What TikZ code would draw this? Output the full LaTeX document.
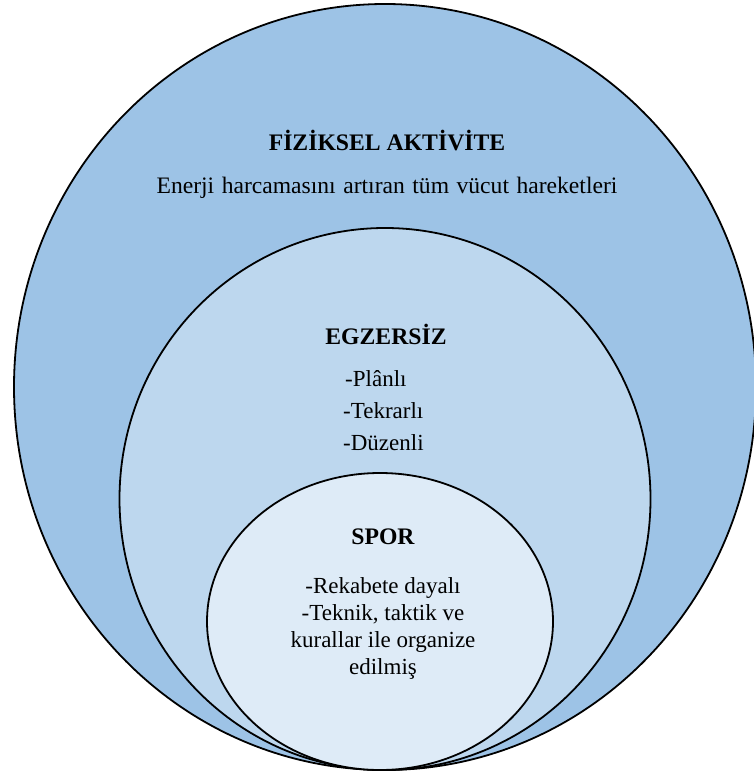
\documentclass[tikz,border=0pt]{standalone}
\usepackage{fontspec}
\setmainfont{Liberation Serif}
\usetikzlibrary{shapes.geometric}
\definecolor{outerblue}{HTML}{9DC3E6}
\definecolor{midblue}{HTML}{BDD7EE}
\definecolor{innerblue}{HTML}{DEEBF7}
\tikzset{
  ring/.style={ellipse, draw=black, line width=1.8pt, inner sep=0pt},
  head/.style={font=\fontsize{23.7}{27}\selectfont\bfseries, inner sep=0pt},
  body/.style={font=\fontsize{23}{27}\selectfont, inner sep=0pt, align=center},
  listtext/.style={font=\fontsize{23}{32}\selectfont, inner sep=0pt, align=left}
}
\begin{document}
\begin{tikzpicture}[x=1pt,y=-1pt]
\useasboundingbox (0,0) rectangle (754,776);
\node[ring, fill=outerblue, minimum width=742pt, minimum height=766pt] (outer) at (385,387) {};
\node[ring, fill=midblue, minimum width=531pt, minimum height=542pt] (middle) at (385,499) {};
\node[ring, fill=innerblue, minimum width=346pt, minimum height=297pt] (inner) at (380,621.5) {};
\node[head] (fa) at (387,141) {FİZİKSEL AKTİVİTE};
\node[body, font=\fontsize{23.6}{27}\selectfont] (fadesc) at (387,188) {\spaceskip=7.5pt plus 1pt Enerji harcamasını artıran tüm vücut hareketleri};
\node[head] (eg) at (386,334) {EGZERSİZ};
\node[listtext, anchor=north west] (egdesc) at (343,370) {\hspace{2pt}-Plânlı\\-Tekrarlı\\-Düzenli};
\node[head] (sp) at (383,537) {SPOR};
\node[body] (spdesc) at (383,628) {-Rekabete dayalı\\-Teknik, taktik ve\\kurallar ile organize\\edilmiş};
\end{tikzpicture}
\end{document}
